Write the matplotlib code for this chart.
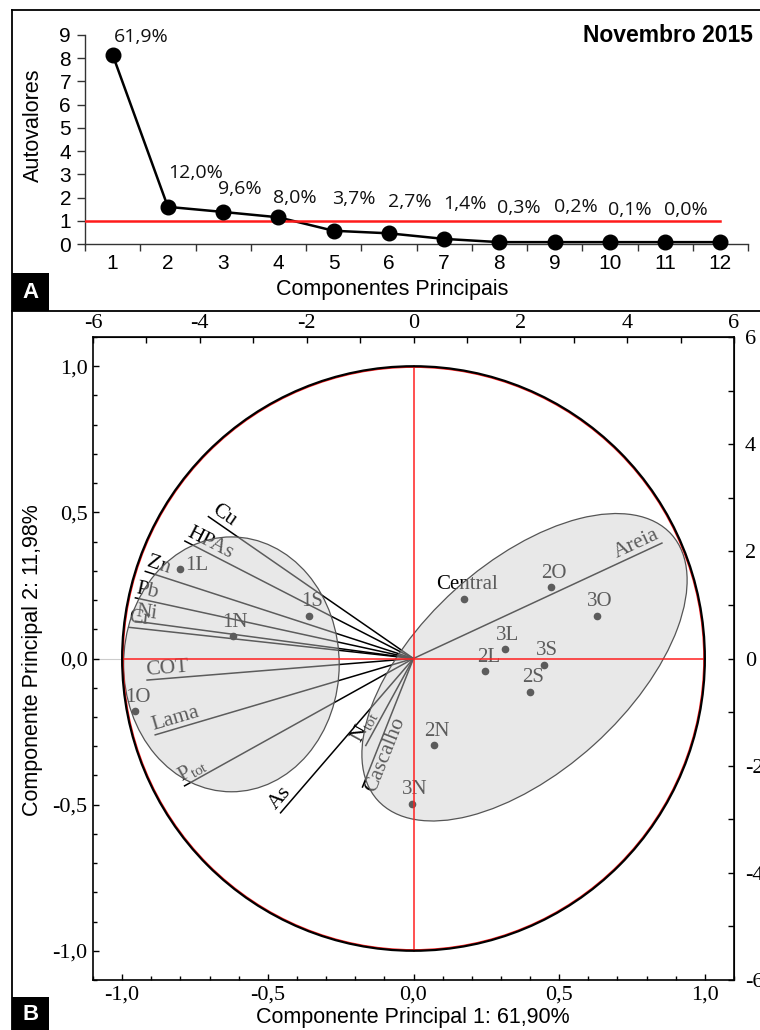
import numpy as np
import matplotlib
matplotlib.use('Agg')
import matplotlib.pyplot as plt
from matplotlib.patches import Ellipse, Rectangle
from matplotlib.lines import Line2D
from matplotlib.ticker import MultipleLocator, FixedLocator, FuncFormatter

# ---------------- data ----------------
# Panel A: scree plot
components = list(range(1, 13))
eigenvalues = [8.15, 1.60, 1.38, 1.15, 0.57, 0.46, 0.22, 0.08, 0.08, 0.08, 0.08, 0.08]
explained = ['61,9%', '12,0%', '9,6%', '8,0%', '3,7%', '2,7%', '1,4%',
             '0,3%', '0,2%', '0,1%', '0,0%']
kaiser_value = 1.0
ytick_vals_A = list(range(0, 10))

# Panel B: biplot
variables = ['Cu', 'HPAs', 'Zn', 'Pb', 'Ni', 'Cr', 'COT', 'Lama',
             r'P$_{\mathrm{tot}}$', 'As', r'N$_{\mathrm{tot}}$', 'Cascalho', 'Areia']
load_pc1 = [-0.706, -0.787, -0.923, -0.957, -0.957, -0.980, -0.917, -0.889,
            -0.788, -0.458, -0.165, -0.176, 0.855]
load_pc2 = [0.487, 0.403, 0.299, 0.208, 0.128, 0.107, -0.074, -0.262,
            -0.437, -0.530, -0.300, -0.442, 0.396]
samples = ['1L', '1S', '1N', '1O', 'Central', '2O', '3O', '3L', '3S', '2L', '2S', '2N', '3N']
score_pc1 = [-0.801, -0.359, -0.621, -0.957, 0.174, 0.473, 0.629, 0.313, 0.448,
             0.247, 0.400, 0.072, -0.006]
score_pc2 = [0.307, 0.147, 0.076, -0.180, 0.205, 0.245, 0.147, 0.031, -0.021,
             -0.043, -0.114, -0.297, -0.497]
xticks_B = [-1.0, -0.5, 0.0, 0.5, 1.0]
sec_ticks = [-6, -4, -2, 0, 2, 4, 6]

# ---------------- layout helpers ----------------
W, H = 760, 1030
plt.rcParams['font.family'] = ['Liberation Sans', 'DejaVu Sans']
plt.rcParams['axes.unicode_minus'] = False
plt.rcParams['mathtext.fontset'] = 'custom'
plt.rcParams['mathtext.rm'] = 'Liberation Serif'
plt.rcParams['mathtext.it'] = 'Liberation Serif:italic'

fig = plt.figure(figsize=(W / 100, H / 100), dpi=100)


def fx(x):
    return x / W


def fy(y):
    return 1 - y / H


def rect(x0, y0, x1, y1):
    return [fx(x0), fy(y1), fx(x1) - fx(x0), fy(y0) - fy(y1)]


# panel frames
for (xa, ya, xb, yb) in [(12, 10, 12, 1030), (12, 10, 760, 10), (12, 311, 760, 311)]:
    fig.add_artist(Line2D([fx(xa), fx(xb)], [fy(ya), fy(yb)], color='black', lw=1.3))
for lab, (x0, y0, x1, y1) in [('A', (12, 273, 49, 311)), ('B', (12, 997, 49, 1030))]:
    fig.add_artist(Rectangle((fx(x0), fy(y1)), fx(x1) - fx(x0), fy(y0) - fy(y1),
                             transform=fig.transFigure, color='black', lw=0))
    fig.text(fx((x0 + x1) / 2), fy((y0 + y1) / 2 + 1), lab, color='white',
             fontsize=16, fontweight='bold', ha='center', va='center')

# ---------------- Panel A ----------------
axA = fig.add_axes(rect(85, 35, 748, 244))
axA.plot(components, eigenvalues, '-', color='black', lw=1.8, zorder=2)
axA.plot([0.5, components[-1]], [kaiser_value, kaiser_value], color='#ff1a1a', lw=1.8, zorder=3)
axA.plot(components, eigenvalues, 'o', color='black', ms=10.5, zorder=4, clip_on=False)

lab_x = [1.51, 2.51, 3.31, 4.29, 5.37, 6.38, 7.38, 8.36, 9.38, 10.36, 11.37]
lab_y = [8.9, 3.07, 2.37, 1.97, 1.92, 1.80, 1.72, 1.54, 1.58, 1.47, 1.47]
for t, xx, yy in zip(explained, lab_x, lab_y):
    axA.text(xx, yy, t, ha='center', va='center', fontsize=14,
             family=['Open Sans', 'DejaVu Sans'], color='#111111')

axA.set_xlim(0.5, 12.5)
axA.set_ylim(0, 9)
for s in ['top', 'right']:
    axA.spines[s].set_visible(False)
for s in ['left', 'bottom']:
    axA.spines[s].set_color('#333333')
    axA.spines[s].set_linewidth(1.0)
axA.set_yticks(ytick_vals_A)
axA.set_xticks(components)
axA.xaxis.set_minor_locator(MultipleLocator(1, offset=0.5))
axA.tick_params(axis='x', which='major', length=0, pad=7, labelsize=15)
axA.tick_params(axis='x', which='minor', length=5, width=1, direction='out', color='#333333')
axA.tick_params(axis='y', which='major', length=6, width=1, direction='out', pad=4,
                labelsize=15, color='#333333')
fig.text(fx(33), fy(125), 'Autovalores', rotation=90, ha='center', va='center', fontsize=15.5)
fig.text(fx(392), fy(290), 'Componentes Principais', ha='center', va='center', fontsize=15.5)
fig.text(fx(753), fy(35), 'Novembro 2015', ha='right', va='center', fontsize=16.5,
         fontweight='bold')

# ---------------- Panel B ----------------
axB = fig.add_axes(rect(93, 337, 734, 980))
axB.set_xlim(-1.1, 1.1)
axB.set_ylim(-1.1, 1.1)
serif = ['Liberation Serif', 'DejaVu Serif']

# unit circle and axes
axB.plot([-1.1, -1.0], [0, 0], color='#cccccc', lw=0.8, zorder=1)
axB.add_patch(Ellipse((0, 0), 1.994, 1.994, fill=False, ec='#ff2020', lw=1.2, zorder=6))
axB.add_patch(Ellipse((0, 0), 2.0, 2.0, fill=False, ec='black', lw=1.6, zorder=7))
axB.plot([-1, 1], [0, 0], color='#ff2020', lw=1.1, zorder=6)
axB.plot([0, 0], [-1, 1], color='#ff2020', lw=1.1, zorder=6)

# loading vectors
fig.canvas.draw()
T = axB.transData
o_px = T.transform((0, 0))
for name, lx, ly in zip(variables, load_pc1, load_pc2):
    axB.plot([0, lx], [0, ly], color='black', lw=1.1, zorder=2, solid_capstyle='butt')
    e_px = T.transform((lx, ly))
    if lx < 0:
        ang = np.degrees(np.arctan2(o_px[1] - e_px[1], o_px[0] - e_px[0]))
        ha = 'left'
    else:
        ang = np.degrees(np.arctan2(e_px[1] - o_px[1], e_px[0] - o_px[0]))
        ha = 'right'
    va = 'top' if name == 'Cascalho' else 'bottom'
    axB.text(lx, ly, name, rotation=ang, rotation_mode='anchor', ha=ha, va=va,
             fontsize=15.5, family=serif, color='black', zorder=3)

# sample scores
axB.plot(score_pc1, score_pc2, 'o', color='black', ms=4.5, zorder=3, ls='none')
for nm, sx, sy in zip(samples, score_pc1, score_pc2):
    if nm == '1L':
        axB.annotate(nm, (sx, sy), xytext=(3.5, 2.5), textcoords='offset points',
                     ha='left', va='center', fontsize=15, family=serif, zorder=3)
    else:
        axB.annotate(nm, (sx, sy), xytext=(2, 10), textcoords='offset points',
                     ha='center', va='center', fontsize=15, family=serif, zorder=3)

# group ellipses (semi-transparent overlay + outline)
for (cx, cy, w, h, a) in [(-0.625, -0.02, 0.74, 0.872, 0.0),
                          (0.381, -0.03, 1.358, 0.713, 42.0)]:
    axB.add_patch(Ellipse((cx, cy), w, h, angle=a, fc='#cdcdcd', ec='none', alpha=0.45, zorder=4))
    axB.add_patch(Ellipse((cx, cy), w, h, angle=a, fill=False, ec='#555555', lw=0.9, zorder=5))

# ticks
fmt_c = FuncFormatter(lambda v, p: ('%.1f' % v).replace('.', ','))
axB.xaxis.set_major_locator(FixedLocator(xticks_B))
axB.yaxis.set_major_locator(FixedLocator(xticks_B))
axB.xaxis.set_minor_locator(MultipleLocator(0.1))
axB.yaxis.set_minor_locator(MultipleLocator(0.1))
axB.xaxis.set_major_formatter(fmt_c)
axB.yaxis.set_major_formatter(fmt_c)
axB.tick_params(which='both', direction='in', width=1, top=False, right=False)
axB.tick_params(which='major', length=4.5, pad=4, labelsize=16, labelfontfamily='Liberation Serif')
axB.tick_params(which='minor', length=3)
for s in axB.spines.values():
    s.set_linewidth(1.2)

k = 6 / 1.1
fmt_i = FuncFormatter(lambda v, p: '%d' % int(round(v)))
secx = axB.secondary_xaxis('top', functions=(lambda v: v * k, lambda v: v / k))
secy = axB.secondary_yaxis('right', functions=(lambda v: v * k, lambda v: v / k))
secx.set_xticks(sec_ticks)
secy.set_yticks(sec_ticks)
secx.xaxis.set_major_formatter(fmt_i)
secy.yaxis.set_major_formatter(fmt_i)
secx.xaxis.set_minor_locator(MultipleLocator(1))
secy.yaxis.set_minor_locator(MultipleLocator(1))
for sa in (secx, secy):
    sa.tick_params(which='both', direction='in', width=1, length=4.5)
    sa.tick_params(which='major', labelsize=16, labelfontfamily='Liberation Serif')
secx.tick_params(which='major', pad=3)
secy.tick_params(which='major', pad=8)

fig.text(fx(413), fy(1018), 'Componente Principal 1: 61,90%', ha='center', va='center',
         fontsize=15.5)
fig.text(fx(33), fy(660), 'Componente Principal 2: 11,98%', rotation=90, ha='center',
         va='center', fontsize=15.5)

fig.savefig('out.png', dpi=100)
